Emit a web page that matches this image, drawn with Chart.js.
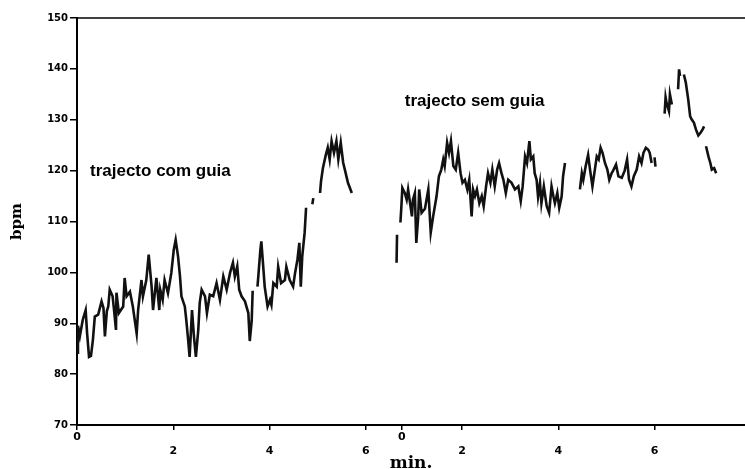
<!DOCTYPE html>
<html>
<head>
<meta charset="utf-8">
<script src="https://cdn.jsdelivr.net/npm/chart.js@4/dist/chart.umd.min.js"></script>
<style>
  body { margin: 0; background: #fff; }
  #caixa { width: 745px; height: 469px; }
</style>
</head>
<body>
<div id="caixa"><canvas id="grafico" width="745" height="469"></canvas></div>
<script>
// trajecto com guia: tempo (min) e frequência cardíaca (bpm); null = falha no registo
const tempoComGuia = [0.00, 0.02, 0.06, 0.12, 0.18, 0.21, 0.25, 0.29, 0.33, 0.37, 0.44, 0.51, 0.55, 0.58, 0.62, 0.65, 0.68, 0.74, 0.77, 0.81,
  0.82, 0.87, 0.96, 0.99, 1.03, 1.10, 1.16, 1.24, 1.27, 1.34, 1.37, 1.44, 1.49, 1.55, 1.58, 1.65, 1.71, 1.73, 1.78, 1.82,
  1.89, 1.96, 2.01, 2.05, 2.10, 2.14, 2.17, 2.24, 2.27, 2.31, 2.34, 2.39, 2.43, 2.47, 2.52, 2.55, 2.59, 2.66, 2.70, 2.76,
  2.83, 2.90, 2.97, 3.04, 3.11, 3.18, 3.24, 3.28, 3.33, 3.37, 3.42, 3.49, 3.56, 3.59, 3.63, 3.65, 3.70, 3.75, 3.77, 3.81,
  3.83, 3.87, 3.90, 3.96, 4.01, 4.04, 4.08, 4.15, 4.18, 4.24, 4.32, 4.35, 4.42, 4.49, 4.53, 4.58, 4.62, 4.65, 4.68, 4.73,
  4.76, 4.82, 4.89, 4.91, 4.98, 5.05, 5.07, 5.11, 5.17, 5.21, 5.25, 5.29, 5.34, 5.39, 5.43, 5.48, 5.53, 5.58, 5.63, 5.71];
const bpmComGuia = [84.2, 89.5, 87.5, 90.7, 92.6, 88.0, 83.4, 83.6, 86.7, 91.3, 91.7, 94.3, 93.0, 87.4, 92.4, 93.3, 96.6, 95.3, 92.6, 88.7,
  96.0, 92.0, 93.3, 98.9, 95.3, 96.2, 93.3, 88.0, 92.6, 98.5, 95.3, 98.5, 103.5, 97.2, 92.6, 98.9, 92.6, 96.6, 94.6, 98.5,
  95.9, 99.9, 104.4, 106.4, 103.1, 99.2, 95.3, 93.3, 90.7, 86.7, 83.4, 92.6, 87.4, 83.4, 88.7, 94.0, 96.6, 95.3, 92.0, 95.6,
  95.3, 97.9, 94.6, 99.2, 96.6, 99.9, 101.9, 99.2, 101.2, 96.6, 95.3, 94.3, 92.0, 86.5, 90.5, 96.4, null, 97.2, 99.5, 104.4,
  106.1, 101.1, 97.2, 93.3, 94.6, 93.6, 97.9, 97.2, 101.1, 97.9, 98.5, 101.1, 98.5, 97.2, 99.8, 102.5, 105.8, 97.2, 103.1, 107.8,
  112.7, null, 113.4, 114.6, null, 115.6, 117.9, 120.5, 123.1, 124.5, 122.2, 125.8, 123.5, 125.8, 122.2, 125.5, 121.6, 119.6, 117.6, 115.6];

// trajecto sem guia: tempo no seu próprio eixo (min) e bpm
const tempoSemGuia = [0.64, 0.65, 0.69, 0.72, 0.74, 0.76, 0.81, 0.85, 0.88, 0.93, 0.96, 0.98, 1.02, 1.05, 1.09, 1.11, 1.16, 1.23, 1.30, 1.35,
  1.40, 1.47, 1.52, 1.57, 1.61, 1.64, 1.69, 1.73, 1.77, 1.82, 1.87, 1.92, 1.97, 2.01, 2.06, 2.11, 2.15, 2.20, 2.23, 2.27,
  2.31, 2.36, 2.41, 2.45, 2.50, 2.54, 2.59, 2.63, 2.68, 2.73, 2.77, 2.82, 2.86, 2.91, 2.96, 3.03, 3.10, 3.17, 3.22, 3.26,
  3.31, 3.35, 3.40, 3.43, 3.48, 3.51, 3.55, 3.58, 3.62, 3.65, 3.70, 3.76, 3.81, 3.86, 3.90, 3.93, 3.98, 4.02, 4.07, 4.10,
  4.14, 4.30, 4.45, 4.49, 4.52, 4.57, 4.62, 4.66, 4.71, 4.75, 4.80, 4.84, 4.88, 4.92, 4.97, 5.02, 5.06, 5.11, 5.14, 5.20,
  5.25, 5.32, 5.38, 5.43, 5.47, 5.52, 5.57, 5.63, 5.68, 5.73, 5.77, 5.82, 5.87, 5.90, 5.94, 5.97, 6.00, 6.02, 6.10, 6.21,
  6.23, 6.25, 6.30, 6.32, 6.36, 6.43, 6.49, 6.51, 6.53, 6.57, 6.61, 6.65, 6.70, 6.74, 6.77, 6.82, 6.86, 6.91, 6.96, 7.00,
  7.03, 7.05, 7.07, 7.12, 7.16, 7.19, 7.24, 7.28];
const bpmSemGuia = [101.9, 107.4, null, 109.8, 112.9, 116.6, 115.6, 114.3, 116.3, 113.0, 111.0, 114.3, 115.6, 105.8, 111.0, 116.3, 111.7, 112.5, 116.3, 107.8,
  111.0, 114.9, 118.9, 120.2, 122.2, 120.9, 125.5, 123.5, 125.8, 120.9, 120.2, 123.5, 119.5, 117.6, 118.2, 116.3, 118.2, 111.0, 116.3, 115.0,
  116.3, 113.6, 115.0, 113.0, 116.9, 119.5, 117.6, 120.2, 116.9, 120.2, 121.5, 119.5, 118.2, 115.6, 118.2, 117.6, 116.3, 116.9, 114.0, 116.9,
  122.8, 121.5, 125.8, 122.2, 122.8, 119.5, 118.2, 114.9, 117.6, 113.6, 116.9, 113.0, 111.7, 116.9, 114.9, 113.6, 115.6, 112.7, 114.9, 118.9,
  121.5, null, 116.3, 119.5, 118.2, 120.9, 123.1, 120.2, 116.9, 119.5, 122.8, 122.2, 124.5, 123.5, 121.5, 120.2, 118.2, 119.5, 120.0, 121.2,
  118.9, 118.6, 120.0, 122.2, 118.2, 116.9, 118.9, 120.2, 122.8, 121.5, 123.5, 124.5, 124.1, 123.5, 121.5, null, 122.6, 120.8, null, 131.2,
  134.4, 133.3, 131.7, 135.0, 133.0, null, 136.0, 139.9, 138.6, null, 138.9, 137.3, 134.0, 130.7, 130.1, 129.4, 128.1, 126.9, 127.5, 128.1,
  128.7, null, 124.8, 122.8, 121.5, 120.2, 120.5, 119.5];

// o segundo eixo começa onde acaba o primeiro (6 min)
const inicioSemGuia = 6;

// marcas do eixo x (posição no eixo contínuo) e respectivos rótulos
const posicoesX = [0, 2, 4, 6, 6.75, 8, 10, 12];
const rotulosX = ['0', '2', '4', '6', '0', '2', '4', '6'];

const textos = [
  { texto: 'trajecto com guia', x: 0.27, y: 119.0 },
  { texto: 'trajecto sem guia', x: 6.81, y: 132.7 }
];

function juntar(tempos, valores, desvio) {
  var pontos = [];
  for (var i = 0; i < tempos.length; i++) {
    pontos.push({ x: tempos[i] + desvio, y: valores[i] });
  }
  return pontos;
}

const pluginTextos = {
  id: 'textos',
  afterDatasetsDraw(chart) {
    const ctx = chart.ctx;
    const area = chart.chartArea;
    ctx.save();
    // linha superior da moldura
    ctx.strokeStyle = '#000';
    ctx.lineWidth = 1.5;
    ctx.beginPath();
    ctx.moveTo(area.left, area.top);
    ctx.lineTo(area.right, area.top);
    ctx.stroke();

    ctx.fillStyle = '#000';
    ctx.font = 'bold 17px "Liberation Sans", Arial, sans-serif';
    ctx.textBaseline = 'alphabetic';
    ctx.textAlign = 'left';
    textos.forEach(function (t) {
      ctx.fillText(t.texto, chart.scales.x.getPixelForValue(t.x), chart.scales.y.getPixelForValue(t.y));
    });
    ctx.restore();
  }
};

const fonteTicks = { family: '"DejaVu Sans", sans-serif', weight: 'bold', size: 11 };

new Chart(document.getElementById('grafico'), {
  type: 'line',
  data: {
    datasets: [
      { label: 'trajecto com guia', data: juntar(tempoComGuia, bpmComGuia, 0) },
      { label: 'trajecto sem guia', data: juntar(tempoSemGuia, bpmSemGuia, inicioSemGuia) }
    ]
  },
  options: {
    responsive: false,
    animation: false,
    spanGaps: false,
    layout: { padding: { top: 18, right: 0, bottom: 0, left: 0 } },
    elements: {
      point: { radius: 0 },
      line: { borderColor: '#111', borderWidth: 2.6, tension: 0, fill: false }
    },
    plugins: { legend: { display: false }, tooltip: { enabled: false } },
    scales: {
      x: {
        type: 'linear',
        min: 0,
        max: 13.88,
        afterFit: function (s) { s.height = 44; },
        afterBuildTicks: function (s) {
          s.ticks = posicoesX.map(function (v) { return { value: v }; });
        },
        ticks: {
          autoSkip: false,
          maxRotation: 0,
          padding: 1,
          color: '#000',
          font: fonteTicks,
          callback: function (valor, i) {
            var r = rotulosX[i];
            return r === '0' ? r : ['', r];
          }
        },
        grid: { drawOnChartArea: false, drawTicks: true, tickLength: 5, color: '#000', lineWidth: 1.5 },
        border: { color: '#000', width: 2 },
        title: {
          display: true,
          text: 'min.',
          color: '#000',
          font: { family: '"DejaVu Serif", serif', weight: 'bold', size: 17, lineHeight: 1 },
          padding: { top: 0, bottom: -3 }
        }
      },
      y: {
        min: 70,
        max: 150,
        afterFit: function (s) { s.width = 77; },
        ticks: {
          stepSize: 10,
          padding: 2,
          color: '#000',
          font: { family: '"DejaVu Sans", sans-serif', weight: 'bold', size: 10 }
        },
        grid: { drawOnChartArea: false, drawTicks: true, tickLength: 7, color: '#000', lineWidth: 1.5 },
        border: { color: '#000', width: 2 },
        title: {
          display: true,
          text: 'bpm',
          color: '#000',
          font: { family: '"DejaVu Serif", serif', weight: 'bold', size: 15 },
          padding: { top: 8, bottom: 0 }
        }
      }
    }
  },
  plugins: [pluginTextos]
});
</script>
</body>
</html>
